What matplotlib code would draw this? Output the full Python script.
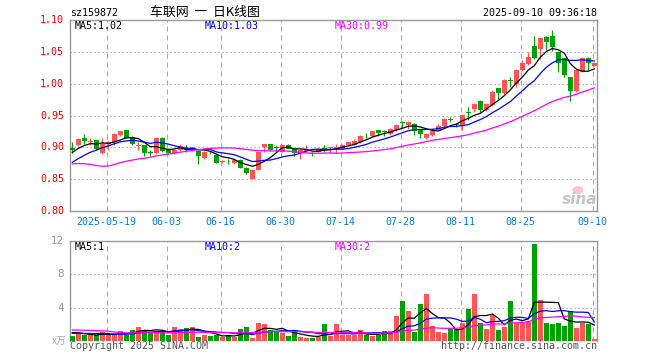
import math
import numpy as np
import pandas as pd
import matplotlib
matplotlib.use('Agg')
import matplotlib.pyplot as plt
from matplotlib.patches import Ellipse

# ---- data (one entry per trading day, 2025-05-09 .. 2025-09-10) ----
tick_idx = [6, 16, 25, 35, 45, 55, 65, 75, 87]
tick_labels = ['2025-05-19', '06-03', '06-16', '06-30', '07-14',
               '07-28', '08-11', '08-25', '09-10']

opens = [0.899, 0.904, 0.915, 0.909, 0.911, 0.891, 0.905, 0.909, 0.919, 0.927,
         0.917, 0.902, 0.903, 0.892, 0.891, 0.914, 0.898, 0.891, 0.896, 0.899,
         0.897, 0.895, 0.883, 0.893, 0.888, 0.877, 0.879, 0.875, 0.880, 0.868,
         0.851, 0.865, 0.900, 0.905, 0.900, 0.893, 0.904, 0.898, 0.891, 0.894,
         0.891, 0.893, 0.899, 0.899, 0.896, 0.898, 0.904, 0.904, 0.908, 0.920,
         0.918, 0.927, 0.925, 0.921, 0.927, 0.939, 0.935, 0.936, 0.927, 0.914,
         0.919, 0.928, 0.934, 0.944, 0.936, 0.934, 0.955, 0.960, 0.973, 0.958,
         0.967, 0.993, 0.985, 1.005, 1.000, 1.022, 1.031, 1.059, 1.054, 1.074,
         1.075, 1.050, 1.040, 1.010, 0.989, 1.019, 1.041, 1.028]
highs = [0.908, 0.914, 0.921, 0.914, 0.912, 0.914, 0.910, 0.922, 0.926, 0.928,
         0.918, 0.908, 0.904, 0.896, 0.917, 0.916, 0.899, 0.897, 0.905, 0.904,
         0.901, 0.896, 0.894, 0.895, 0.890, 0.880, 0.881, 0.881, 0.881, 0.869,
         0.866, 0.894, 0.906, 0.906, 0.904, 0.905, 0.906, 0.899, 0.897, 0.904,
         0.893, 0.899, 0.904, 0.901, 0.906, 0.905, 0.909, 0.913, 0.919, 0.923,
         0.926, 0.928, 0.927, 0.930, 0.936, 0.941, 0.941, 0.938, 0.928, 0.922,
         0.927, 0.936, 0.946, 0.947, 0.938, 0.952, 0.963, 0.969, 0.974, 0.969,
         0.990, 0.993, 1.007, 1.011, 1.023, 1.037, 1.049, 1.075, 1.072, 1.075,
         1.084, 1.051, 1.041, 1.011, 1.023, 1.042, 1.042, 1.033]
lows = [0.891, 0.902, 0.905, 0.904, 0.896, 0.890, 0.896, 0.903, 0.918, 0.914,
        0.904, 0.896, 0.886, 0.887, 0.890, 0.893, 0.890, 0.890, 0.895, 0.893,
        0.895, 0.874, 0.882, 0.890, 0.875, 0.876, 0.874, 0.874, 0.867, 0.858,
        0.850, 0.864, 0.892, 0.895, 0.895, 0.892, 0.897, 0.887, 0.882, 0.892,
        0.887, 0.892, 0.893, 0.891, 0.891, 0.897, 0.903, 0.903, 0.907, 0.914,
        0.917, 0.918, 0.918, 0.920, 0.926, 0.931, 0.929, 0.919, 0.915, 0.913,
        0.918, 0.927, 0.932, 0.940, 0.932, 0.927, 0.943, 0.956, 0.956, 0.957,
        0.965, 0.974, 0.984, 0.995, 0.995, 1.020, 1.030, 1.039, 1.038, 1.053,
        1.052, 1.019, 1.011, 0.973, 0.987, 1.018, 1.022, 1.027]
closes = [0.896, 0.913, 0.910, 0.910, 0.897, 0.905, 0.909, 0.921, 0.925, 0.915,
          0.905, 0.903, 0.891, 0.891, 0.915, 0.894, 0.891, 0.896, 0.902, 0.898,
          0.900, 0.886, 0.893, 0.892, 0.876, 0.879, 0.878, 0.880, 0.868, 0.860,
          0.865, 0.893, 0.905, 0.896, 0.899, 0.904, 0.898, 0.891, 0.896, 0.895,
          0.890, 0.898, 0.898, 0.900, 0.901, 0.904, 0.908, 0.910, 0.918, 0.919,
          0.925, 0.923, 0.924, 0.929, 0.935, 0.938, 0.940, 0.926, 0.921, 0.921,
          0.926, 0.934, 0.945, 0.943, 0.935, 0.951, 0.954, 0.968, 0.959, 0.968,
          0.987, 0.986, 1.006, 1.004, 1.022, 1.033, 1.042, 1.040, 1.071, 1.066,
          1.057, 1.032, 1.014, 0.989, 1.022, 1.041, 1.032, 1.032]
volumes = [0.60, 0.92, 0.68, 0.68, 0.68, 1.12, 0.72, 0.72, 1.20, 0.72,
           1.36, 1.72, 1.36, 1.08, 1.20, 1.08, 0.72, 1.72, 1.44, 1.56,
           1.72, 0.52, 0.72, 0.60, 0.68, 0.52, 0.68, 0.52, 1.40, 1.64,
           0.40, 2.20, 2.00, 1.36, 1.04, 1.00, 0.60, 1.04, 0.52, 0.36,
           0.40, 0.44, 2.00, 0.64, 2.10, 0.68, 0.68, 0.68, 1.36, 0.72,
           0.60, 0.68, 1.20, 1.20, 3.00, 4.80, 3.60, 1.04, 4.44, 5.64,
           1.80, 1.08, 0.92, 1.44, 1.44, 2.20, 3.88, 5.64, 2.12, 1.44,
           3.12, 1.36, 1.68, 4.80, 2.20, 2.20, 2.36, 11.64, 4.88, 2.20,
           2.10, 2.20, 1.84, 3.60, 1.60, 2.20, 2.00, 0.20]

# days before the visible window, estimated so the MA lines start where the chart shows
prior_closes = [0.905, 0.912, 0.945, 0.948, 0.940, 0.900, 0.845, 0.840, 0.850, 0.848,
                0.852, 0.855, 0.850, 0.846, 0.848, 0.852, 0.855, 0.853, 0.858, 0.856,
                0.855, 0.858, 0.862, 0.865, 0.866, 0.880, 0.888, 0.895, 0.900]
prior_volumes = [1.2, 1.3, 1.4, 1.5, 1.6, 2.0, 3.6, 3.2, 1.8, 1.5,
                 1.3, 1.2, 1.1, 1.3, 1.2, 1.1, 1.0, 1.1, 1.0, 1.0,
                 0.8, 0.9, 0.85, 0.8, 0.85, 1.0, 1.2, 1.1, 1.1]

RED = '#ff5555'
GREEN = '#00a000'
GRID = '#aaaaaa'
BORDER = '#999999'
MA_COLORS = {5: 'black', 10: '#0000ff', 30: '#ff00ff'}
MONO = 'DejaVu Sans Mono'

o = np.array(opens)
h = np.array(highs)
l = np.array(lows)
c = np.array(closes)
v = np.array(volumes)
n = len(c)
x = np.arange(n)
np_ = len(prior_closes)

all_c = pd.Series(prior_closes + closes)
all_v = pd.Series(prior_volumes + volumes)
ma_price = {k: all_c.rolling(k).mean().values[np_:] for k in (5, 10, 30)}
ma_vol = {k: all_v.rolling(k).mean().values[np_:] for k in (5, 10, 30)}

W, H = 660, 360
fig = plt.figure(figsize=(6.6, 3.6), dpi=100)
fig.patch.set_facecolor('white')


def fx(px):
    return px / W


def fy(py):
    return 1 - py / H


ax1 = fig.add_axes([fx(70.3), fy(211), fx(597 - 70.3), 191 / H])
ax2 = fig.add_axes([fx(70.3), fy(341), fx(597 - 70.3), 100 / H])

up = c >= o
cols = np.where(up, RED, GREEN)

# ---- candles ----
body_lo = np.minimum(o, c)
body_h = np.abs(c - o)
min_h = 0.0011
body_lo = np.where(body_h < min_h, body_lo - (min_h - body_h) / 2, body_lo)
body_h = np.maximum(body_h, min_h)
ax1.vlines(x, l, h, colors=cols, lw=0.9, zorder=3)
ax1.bar(x, body_h, bottom=body_lo, width=0.75, color=cols, linewidth=0, zorder=3)
for k in (5, 10, 30):
    ax1.plot(x, ma_price[k], color=MA_COLORS[k], lw=0.9, zorder=4)

# ---- volume ----
ax2.bar(x, v, width=0.82, color=cols, linewidth=0, zorder=3)
for k in (5, 10, 30):
    ax2.plot(x, ma_vol[k], color=MA_COLORS[k], lw=0.9, zorder=4)

grid_x = [t - 0.27 for t in tick_idx]
for ax in (ax1, ax2):
    ax.set_xlim(-0.333, 87.45)
    ax.set_xticks([])
    ax.set_yticks([])
    for gx in grid_x:
        ax.axvline(gx, color=GRID, lw=0.8, dashes=(4.5, 3.6), zorder=1)
    for s in ax.spines.values():
        s.set_color(BORDER)
        s.set_linewidth(1.0)

ax1.set_ylim(0.80, 1.10)
for p in (0.85, 0.90, 0.95, 1.00, 1.05):
    ax1.axhline(p, color=GRID, lw=0.8, dashes=(1.2, 2.4), zorder=1)
ax2.set_ylim(0, 12)
ax2.spines['bottom'].set_visible(False)
for q in (4, 8):
    ax2.axhline(q, color=GRID, lw=0.8, dashes=(1.2, 2.4), zorder=1)

# ---- tick labels ----
for p in (0.80, 0.85, 0.90, 0.95, 1.00, 1.05, 1.10):
    ax1.text(-0.012, p, '%.2f' % p, transform=ax1.get_yaxis_transform(),
             ha='right', va='center', color='#ee0000', fontsize=7.2, family=MONO)
for q in (4, 8, 12):
    ax2.text(-0.012, q, str(q), transform=ax2.get_yaxis_transform(),
             ha='right', va='center', color='#999999', fontsize=7.5)
for gx, lab in zip(grid_x, tick_labels):
    ax1.text(gx, -0.055, lab, transform=ax1.get_xaxis_transform(),
             ha='center', va='center', color='#0a7ad1', fontsize=7.2, family=MONO)


def trunc2(val):
    return '%.2f' % (math.floor(val * 100 + 1e-9) / 100)


# ---- header texts ----
fig.text(fx(70), fy(13), 'sz159872', ha='left', va='center', fontsize=7.2, family=MONO)
fig.text(fx(150), fy(12.5), '车联网  一  日K线图', ha='left', va='center', fontsize=9.3,
         family=['Noto Sans CJK SC', 'DejaVu Sans'])
fig.text(fx(597.3), fy(13), '2025-09-10 09:36:18', ha='right', va='center',
         fontsize=7.2, family=MONO)

ma_x = {5: 75, 10: 205, 30: 334.7}
for k in (5, 10, 30):
    fig.text(fx(ma_x[k]), fy(26), 'MA%d:%s' % (k, trunc2(ma_price[k][-1])),
             ha='left', va='center', color=MA_COLORS[k], fontsize=7.2, family=MONO)
    fig.text(fx(ma_x[k]), fy(246.5), 'MA%d:%d' % (k, int(ma_vol[k][-1])),
             ha='left', va='center', color=MA_COLORS[k], fontsize=7.2, family=MONO)

fig.text(fx(66), fy(341), 'x万', ha='right', va='center', color='#aaaaaa', fontsize=7,
         family=['Noto Sans CJK SC', 'DejaVu Sans'])
fig.text(fx(69.5), fy(346), 'Copyright 2025 SINA.COM', ha='left', va='center',
         color='#555555', fontsize=7.2, family=MONO)
fig.text(fx(597.3), fy(346), 'http://finance.sina.com.cn', ha='right', va='center',
         color='#555555', fontsize=7.2, family=MONO)

# sina watermark
fig.text(fx(597), fy(199), 'sina', ha='right', va='center', color='#c4c4c4',
         fontsize=11, fontweight='bold', style='italic')
fig.add_artist(Ellipse((fx(578), fy(190)), 11 / W, 8 / H, transform=fig.transFigure,
                       facecolor='#f8c8c8', edgecolor='none'))

fig.savefig('out.png', dpi=100)
